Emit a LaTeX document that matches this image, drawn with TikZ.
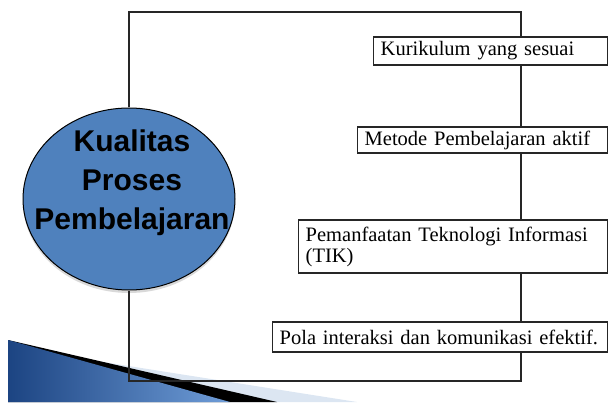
\documentclass[tikz,border=0pt]{standalone}
\usepackage{fontspec}
\setmainfont{Liberation Serif}
\newfontfamily\arialfont{Liberation Sans}
\usetikzlibrary{positioning,shapes,shadows}
\definecolor{ellblue}{HTML}{4F81BD}
\definecolor{paleblue}{HTML}{DCE6F2}
\definecolor{darkblue}{HTML}{1C4482}
\definecolor{lightblue}{HTML}{6F9DD8}

\begin{document}
\begin{tikzpicture}[x=1pt,y=1pt,
	itembox/.style={draw=black!85,line width=1.4pt,fill=white,anchor=west,inner xsep=7pt,inner ysep=0pt,align=left,font=\fontsize{20.5}{21}\selectfont},
	frameline/.style={draw=black!85,line width=1.3pt},
	titletext/.style={font=\arialfont\bfseries\fontsize{30}{39}\selectfont,align=center}]
	\useasboundingbox (0,0) rectangle (610,402);
	
	% corner ribbon
	\fill[paleblue] (8,55) -- (357,0) -- (8,0) -- cycle;
	\fill[black] (8,62) -- (277,0) -- (8,0) -- cycle;
	\shade[left color=darkblue,right color=lightblue] (8,62) -- (230,0) -- (8,0) -- cycle;
	
	\node[ellipse,draw=black,line width=1pt,fill=ellblue,minimum width=212pt,minimum height=182pt,
		drop shadow={shadow xshift=0pt,shadow yshift=-3pt,opacity=0.3}] (kualitas) at (129,203) {};
	\node[titletext] (kualitastext) at ([xshift=3pt,yshift=16pt]kualitas.center) {Kualitas\\Proses\\Pembelajaran};
	
	\coordinate (fne) at (521,390);
	\coordinate (fse) at (521,21);
	\draw[frameline] (kualitas.north) |- (fne) -- (fse) -| (kualitas.south);
	
	\node[itembox,text width=220pt,minimum height=28pt] (kurikulum) at (373,351) {Kurikulum yang sesuai};
	\node[itembox,text width=236pt,minimum height=26pt] (metode) at (357,262) {Metode Pembelajaran aktif};
	\node[itembox,text width=295pt,minimum height=53pt] (tik) at (298,155.5) {Pemanfaatan Teknologi Informasi\\(TIK)};
	\node[itembox,text width=321pt,minimum height=30pt] (pola) at (272,65) {Pola interaksi dan komunikasi efektif.};
\end{tikzpicture}
\end{document}
